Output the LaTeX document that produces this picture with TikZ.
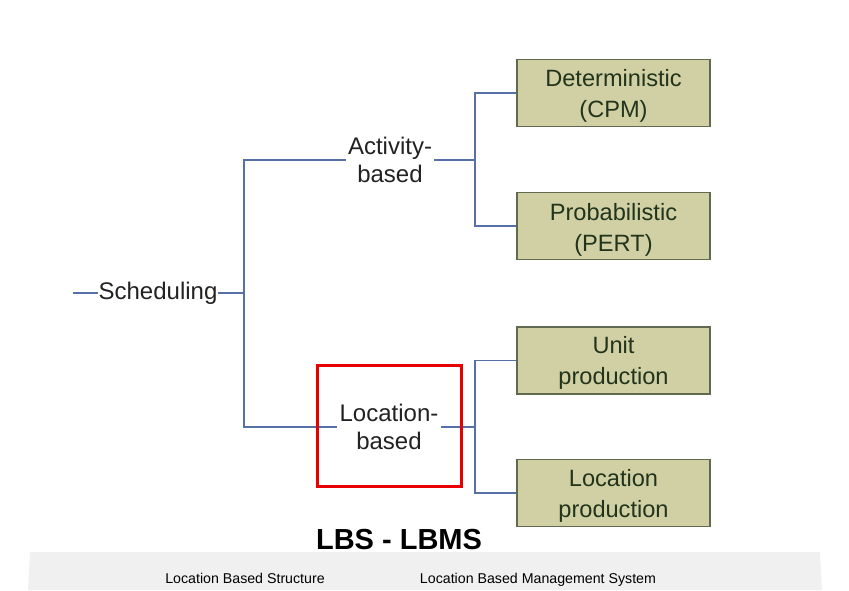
\documentclass[tikz,border=0pt]{standalone}
\usepackage{fontspec}
\setmainfont{Liberation Sans}
\definecolor{linkblue}{RGB}{86,112,168}
\definecolor{boxfill}{RGB}{208,208,164}
\definecolor{boxedge}{RGB}{96,106,78}
\definecolor{boxtext}{RGB}{34,52,28}
\definecolor{plaintext}{RGB}{34,34,34}
\definecolor{bandgray}{RGB}{240,240,240}
\definecolor{hlred}{RGB}{232,0,0}
\begin{document}
\begin{tikzpicture}[x=1pt,y=-1pt,
  link/.style={draw=linkblue,line width=1.1pt},
  label/.style={inner sep=2pt,text=plaintext,align=center,
    font=\fontsize{24}{28.5}\selectfont},
  leaf/.style={draw=boxedge,line width=1.1pt,fill=boxfill,
    minimum width=193,minimum height=67,inner sep=0pt},
  leaftext/.style={text=boxtext,align=center,inner sep=0pt,
    font=\fontsize{23.6}{31}\selectfont},
  hlbox/.style={draw=hlred,line width=3pt,minimum width=144,minimum height=121,inner sep=0pt},
  caption/.style={inner sep=0pt,text=black,anchor=base}]
\useasboundingbox (0,0) rectangle (849,590);
\fill[white] (0,0) rectangle (849,590);
% pale band behind the bottom caption
\fill[bandgray] (30,552) -- (820,552) -- (822,590) -- (28,590) -- cycle;

% tree labels
\node[label,inner sep=0pt] (sched) at (158,293) {Scheduling};
\node[label] (act) at (390,160) {Activity-\\based};
\node[label] (loc) at (389,427) {Location-\\based};

% leaves: box first, then its two-line text
\node[leaf] (det)  at (613.5,93)    {};
\node[leaf] (prob) at (613.5,226)   {};
\node[leaf] (unit) at (613.5,360.5) {};
\node[leaf] (locp) at (613.5,493)   {};
\node[leaftext] (dett)  at ([yshift=-3pt]det.center)  {Deterministic\\(CPM)};
\node[leaftext] (probt) at ([yshift=-3.5pt]prob.center) {Probabilistic\\(PERT)};
\node[leaftext] (unitt) at ([yshift=-2pt]unit.center) {Unit\\production};
\node[leaftext] (locpt) at ([yshift=-2.5pt]locp.center) {Location\\production};

% junction points
\coordinate (start) at (73,293);
\coordinate (jr) at (244,293);
\coordinate (xj) at (475,0);
\coordinate (ja) at (act.east -| xj);
\coordinate (jl) at (loc.east -| xj);

% connectors
\draw[link] (start) -- (sched.west);
\draw[link] (sched.east) -- (jr);
\draw[link] (jr) |- (act.west);
\draw[link] (jr) |- (loc.west);
\draw[link] (act.east) -- (ja);
\draw[link] (ja) |- (det.west);
\draw[link] (ja) |- (prob.west);
\draw[link] (loc.east) -- (jl);
\draw[link] (jl) |- (unit.west);
\draw[link] (jl) |- (locp.west);

% highlight around the location-based branch
\node[hlbox] (hl) at (389,425.5) {};

% captions
\node[caption,font=\fontsize{29}{32}\selectfont\bfseries] (title) at (399,549) {LBS - LBMS};
\node[caption,font=\fontsize{14.2}{16}\selectfont] (lbs) at (245,583) {Location Based Structure};
\node[caption,font=\fontsize{14.2}{16}\selectfont] (lbms) at (538,583) {Location Based Management System};
\end{tikzpicture}
\end{document}
